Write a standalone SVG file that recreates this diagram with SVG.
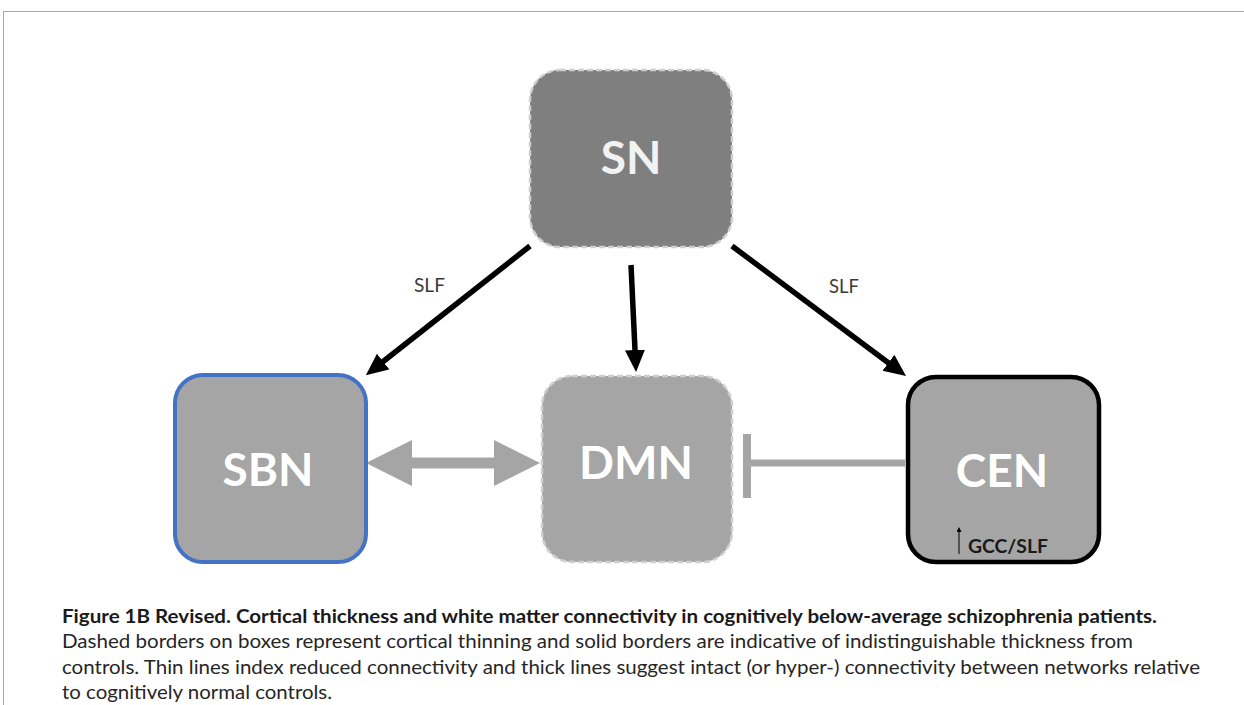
<svg xmlns="http://www.w3.org/2000/svg" width="1244" height="705" viewBox="0 0 1244 705">
  <style>
    .lbl { font-family: Lato, "Open Sans", "DejaVu Sans", sans-serif; font-weight: 700; font-size: 46px; fill: #ffffff; text-anchor: middle; }
    .edge { font-family: Lato, "Open Sans", "DejaVu Sans", sans-serif; font-size: 19px; fill: #3a3a3a; }
    .cap { font-family: Lato, "Open Sans", "DejaVu Sans", sans-serif; font-size: 19px; fill: #262626; }
    .capb { font-weight: 700; fill: #1a1a1a; }
    .blk { stroke: #000000; stroke-width: 5.5; fill: none; }
    .gray { fill: #a5a5a5; }
    .dash { stroke: #cfcfcf; stroke-width: 2.5; stroke-dasharray: 6 3; }
  </style>
  <defs>
    <marker id="ah" markerUnits="userSpaceOnUse" markerWidth="24" markerHeight="22" refX="4" refY="10" orient="auto" viewBox="0 0 24 22">
      <path d="M0,0 L22,10 L0,20 z" fill="#000000"/>
    </marker>
    <marker id="ahs" markerUnits="userSpaceOnUse" markerWidth="6" markerHeight="6" refX="1" refY="2.5" orient="auto" viewBox="0 0 6 6">
      <path d="M0,0 L5,2.5 L0,5 z" fill="#000000"/>
    </marker>
  </defs>

  <!-- page frame -->
  <g id="frame" stroke="#a8a8a8" stroke-width="1" fill="none">
    <line x1="3" y1="11.5" x2="1244" y2="11.5"/>
    <line x1="3.5" y1="11" x2="3.5" y2="705"/>
  </g>

  <!-- connectors -->
  <g id="connectors">
    <line class="blk" x1="530" y1="246" x2="380" y2="364" marker-end="url(#ah)"/>
    <line class="blk" x1="631" y1="265" x2="635.2" y2="354" marker-end="url(#ah)"/>
    <line class="blk" x1="732" y1="246" x2="891.6" y2="365.2" marker-end="url(#ah)"/>
    <polygon class="gray" points="366,463 412,440 412,457.5 494,457.5 494,440 540,463 494,486 494,468.5 412,468.5 412,486"/>
    <rect class="gray" x="743" y="434" width="8" height="64"/>
    <line x1="751" y1="463" x2="905" y2="463" stroke="#a5a5a5" stroke-width="7"/>
    <text class="edge" x="414" y="292" textLength="31" lengthAdjust="spacingAndGlyphs">SLF</text>
    <text class="edge" x="829" y="293" textLength="30" lengthAdjust="spacingAndGlyphs">SLF</text>
  </g>

  <!-- nodes -->
  <g id="node-SN">
    <rect class="dash" x="530" y="70" width="202" height="177" rx="30" ry="30" fill="#7f7f7f"/>
    <text class="lbl" x="631" y="174" style="fill:#f2f2f2">SN</text>
  </g>
  <g id="node-SBN">
    <rect x="175" y="375" width="191" height="187" rx="28" ry="28" fill="#a5a5a5" stroke="#4472c4" stroke-width="4"/>
    <text class="lbl" x="268" y="486">SBN</text>
  </g>
  <g id="node-DMN">
    <rect class="dash" x="542" y="376" width="190" height="186" rx="30" ry="30" fill="#a5a5a5"/>
    <text class="lbl" x="636" y="479">DMN</text>
  </g>
  <g id="node-CEN">
    <rect x="908" y="377" width="191" height="185" rx="28" ry="28" fill="#a5a5a5" stroke="#000000" stroke-width="4.5"/>
    <text class="lbl" x="1002" y="487">CEN</text>
    <line x1="959" y1="554" x2="959" y2="531" stroke="#000000" stroke-width="1" marker-end="url(#ahs)"/>
    <text x="968" y="553" textLength="80" lengthAdjust="spacingAndGlyphs" style="font-family: Lato, 'Open Sans', sans-serif; font-weight:700; font-size:18px; fill:#1a1a1a">GCC/SLF</text>
  </g>

  <!-- caption -->
  <g id="caption">
    <text class="cap capb" x="62" y="623" textLength="1095" lengthAdjust="spacingAndGlyphs">Figure 1B Revised. Cortical thickness and white matter connectivity in cognitively below-average schizophrenia patients.</text>
    <text class="cap" x="62" y="648" textLength="1071" lengthAdjust="spacingAndGlyphs">Dashed borders on boxes represent cortical thinning and solid borders are indicative of indistinguishable thickness from</text>
    <text class="cap" x="62" y="674" textLength="1138" lengthAdjust="spacingAndGlyphs">controls. Thin lines index reduced connectivity and thick lines suggest intact (or hyper-) connectivity between networks relative</text>
    <text class="cap" x="62" y="699" textLength="270" lengthAdjust="spacingAndGlyphs">to cognitively normal controls.</text>
  </g>
</svg>
